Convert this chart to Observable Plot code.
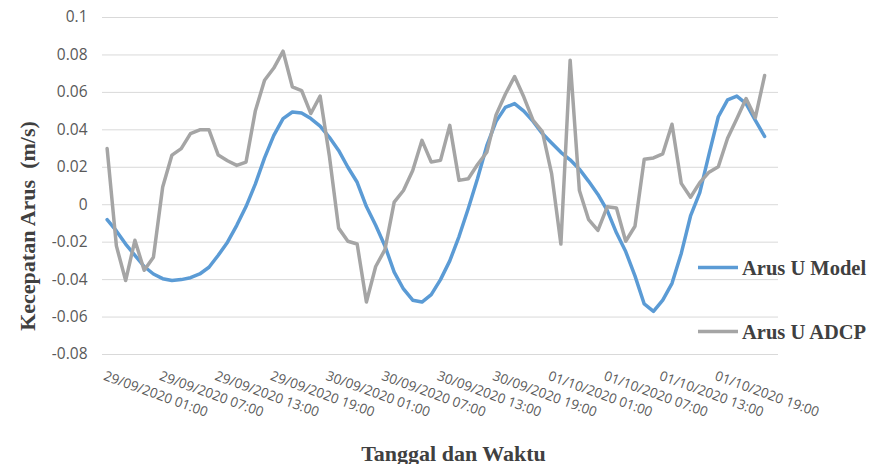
<!DOCTYPE html>
<html><head><meta charset="utf-8">
<script src="https://cdn.jsdelivr.net/npm/d3@7"></script>
<script src="https://cdn.jsdelivr.net/npm/@observablehq/plot@0.6"></script>
<style>
body{margin:0;background:#fff;}
#chart{position:relative;width:874px;height:464px;overflow:hidden;}
</style>
</head><body><div id="chart"></div>
<script>
// Hourly series, 29/09/2020 01:00 onwards (one value per hour)
const modelU = [-0.008,-0.014,-0.021,-0.027,-0.033,-0.037,-0.0395,-0.0405,-0.040,-0.039,
  -0.037,-0.0334,-0.027,-0.020,-0.011,-0.001,0.011,0.025,0.037,0.046,
  0.0495,0.049,0.046,0.042,0.036,0.029,0.020,0.012,-0.001,-0.011,
  -0.022,-0.036,-0.045,-0.051,-0.052,-0.048,-0.040,-0.030,-0.017,-0.002,
  0.014,0.0315,0.0445,0.052,0.054,0.050,0.0445,0.038,0.033,0.028,
  0.024,0.019,0.0125,0.0055,-0.003,-0.015,-0.025,-0.038,-0.053,-0.057,
  -0.051,-0.042,-0.026,-0.006,0.0065,0.027,0.047,0.056,0.058,0.054,
  0.045,0.0365];
const adcpU = [0.030,-0.022,-0.0405,-0.019,-0.035,-0.028,0.0095,0.0265,0.030,0.038,
  0.040,0.040,0.0265,0.0235,0.021,0.0228,0.050,0.0665,0.073,0.082,
  0.063,0.061,0.0487,0.058,0.026,-0.0125,-0.0195,-0.021,-0.052,-0.033,
  -0.024,0.0014,0.0076,0.0183,0.0344,0.0228,0.0237,0.0424,0.013,0.0139,
  0.0215,0.028,0.048,0.059,0.0685,0.0575,0.045,0.039,0.0166,-0.021,
  0.0772,0.0076,-0.008,-0.0137,-0.0011,-0.0018,-0.0195,-0.0115,0.0243,0.025,
  0.0272,0.043,0.0114,0.004,0.0118,0.0174,0.0203,0.0355,0.0459,0.0567,
  0.0465,0.069];
const tickLabels = ["29/09/2020 01:00","29/09/2020 07:00","29/09/2020 13:00","29/09/2020 19:00",
  "30/09/2020 01:00","30/09/2020 07:00","30/09/2020 13:00","30/09/2020 19:00",
  "01/10/2020 01:00","01/10/2020 07:00","01/10/2020 13:00","01/10/2020 19:00"];
const tickIndex = [0,6,12,18,24,30,36,42,48,54,60,66];
const yTicks = [-0.08,-0.06,-0.04,-0.02,0,0.02,0.04,0.06,0.08,0.1];
const seriesNames = ["Arus U Model","Arus U ADCP"];
const seriesColors = ["#5B9BD5","#A5A5A5"];
const yTitle = "Kecepatan Arus  (m/s)";
const xTitle = "Tanggal dan Waktu";
const categoryCount = 73;

const serif = "'Liberation Serif','DejaVu Serif',serif";
const lineOpts = {strokeWidth:3.5, strokeLinejoin:"round", strokeLinecap:"round"};

const plot = Plot.plot({
  width:874, height:464,
  marginLeft:102, marginRight:96, marginTop:17, marginBottom:110,
  style:{fontFamily:"'Open Sans',sans-serif", fontSize:"13px", color:"#595959", background:"#fff", overflow:"hidden"},
  x:{domain:[-0.5, categoryCount - 0.5], axis:null},
  y:{domain:[-0.08, 0.1], axis:null},
  marks:[
    Plot.gridY(yTicks, {stroke:"#d9d9d9", strokeOpacity:1, strokeWidth:1}),
    Plot.axisY(yTicks, {tickSize:0, tickPadding:15, fontSize:15.5, label:null,
      tickFormat:d => String(+d.toFixed(2)), fill:"#595959"}),
    Plot.lineY(modelU, {x:(d,i)=>i, y:d=>d, stroke:seriesColors[0], ...lineOpts}),
    Plot.lineY(adcpU, {x:(d,i)=>i, y:d=>d, stroke:seriesColors[1], ...lineOpts}),
    Plot.text(tickLabels, {x:(d,i)=>tickIndex[i], text:d=>d, frameAnchor:"bottom",
      rotate:20, textAnchor:"start", lineAnchor:"top", dy:16, dx:-1, fontSize:13.5, fill:"#595959"}),
    Plot.text([yTitle], {text:d=>d, frameAnchor:"left", textAnchor:"middle", rotate:-90, dx:-75, dy:40,
      fontSize:22, fontWeight:"bold", fontFamily:serif, fill:"#404040"}),
    Plot.text([xTitle], {text:d=>d, frameAnchor:"bottom", textAnchor:"middle", lineAnchor:"bottom", dx:13, dy:106,
      fontSize:22, fontWeight:"bold", fontFamily:serif, fill:"#404040"})
  ]
});

// Legend (right side)
const svg = d3.select(plot);
const leg = svg.append("g").attr("text-anchor", "start");
seriesNames.forEach((name, k) => {
  const y = 267.5 + k * 64;
  leg.append("line").attr("x1", 698).attr("x2", 738).attr("y1", y).attr("y2", y)
    .attr("stroke", seriesColors[k]).attr("stroke-width", 3.5);
  leg.append("text").attr("x", 742).attr("y", y + 7.5).text(name)
    .attr("text-anchor", "start")
    .attr("font-family", serif).attr("font-weight", "bold").attr("font-size", 20.5)
    .attr("fill", "#404040");
});

document.getElementById("chart").appendChild(plot);
</script>
</body></html>
